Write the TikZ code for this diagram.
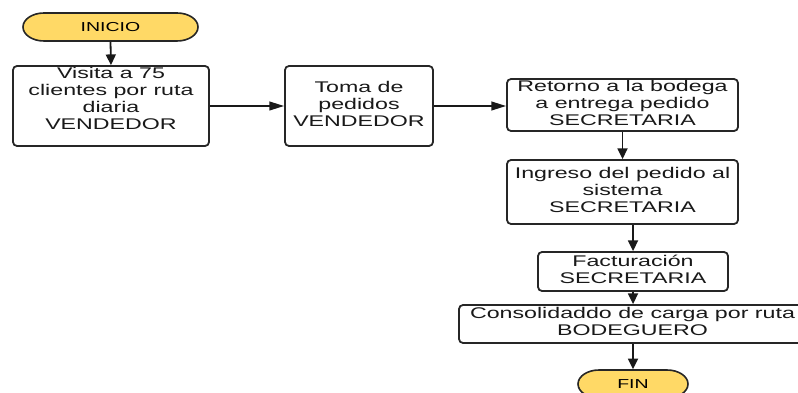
\documentclass[tikz,border=0pt]{standalone}
\usepackage{fontspec}
\setmainfont{Liberation Sans}
\usetikzlibrary{shapes.misc,arrows.meta}
\definecolor{termfill}{HTML}{FFD966}
\newcommand{\bxt}[1]{\scalebox{1.5}[1]{\begin{tabular}{@{}c@{}}#1\end{tabular}}}
\tikzset{
  procbox/.style={draw=black!85, line width=1.35pt, rounded corners=3pt, fill=white,
    inner sep=0pt, font=\fontsize{11.6}{12.75}\selectfont, text=black!90},
  terminal/.style={rounded rectangle, draw=black!85, line width=1.2pt, fill=termfill,
    inner sep=0pt, minimum height=21pt, font=\fontsize{9.75}{11}\selectfont,
    xscale=1.5, transform shape},
  vflow/.style={line width=1.35pt, draw=black!90, -{Triangle[length=8pt,width=7.5pt]}},
  hflow/.style={line width=1.35pt, draw=black!90, -{Triangle[length=11pt,width=6.5pt]}}
}
\begin{document}
\begin{tikzpicture}[x=0.75pt,y=-0.75pt]
\useasboundingbox (0,0) rectangle (798,392);
\clip (0,0) rectangle (798,392);
\path (110.5,27) node[terminal, minimum width=87.5pt] (inicio) {INICIO};
\path (111,106) node[procbox, minimum width=147pt, minimum height=60pt] (b1)
  {\raisebox{3.75pt}[\height][\depth]{\bxt{Visita a 75\\clientes por ruta\\diaria\\VENDEDOR}}};
\path (359,106) node[procbox, minimum width=111pt, minimum height=60pt] (b2)
  {\bxt{Toma de\\pedidos\\VENDEDOR}};
\path (622.5,105) node[procbox, minimum width=173.25pt, minimum height=39pt] (b3)
  {\bxt{Retorno a la bodega\\a entrega pedido\\SECRETARIA}};
\path (622.5,192) node[procbox, minimum width=173.25pt, minimum height=48pt] (b4)
  {\bxt{Ingreso del pedido al\\sistema\\SECRETARIA}};
\path (633,271.5) node[procbox, minimum width=142.5pt, minimum height=29.25pt] (b5)
  {\bxt{Facturación\\SECRETARIA}};
\path (632.5,324) node[procbox, minimum width=260.25pt, minimum height=28.5pt] (b6)
  {\bxt{Consolidaddo de carga por ruta\\BODEGUERO}};
\path (633,384) node[terminal, minimum width=55pt] (fin) {FIN};
\draw[vflow] (inicio.south) -- (b1.north);
\draw[hflow] (b1.east) -- (b2.west);
\draw[hflow] (b2.east) -- (b2.east -| b3.west);
\draw[vflow] (b3.south) -- (b4.north);
\draw[vflow] (b5.north |- b4.south) -- (b5.north);
\draw[vflow] (b5.south) -- (b5.south |- b6.north);
\draw[vflow] (fin.north |- b6.south) -- (fin.north);
\end{tikzpicture}
\end{document}
